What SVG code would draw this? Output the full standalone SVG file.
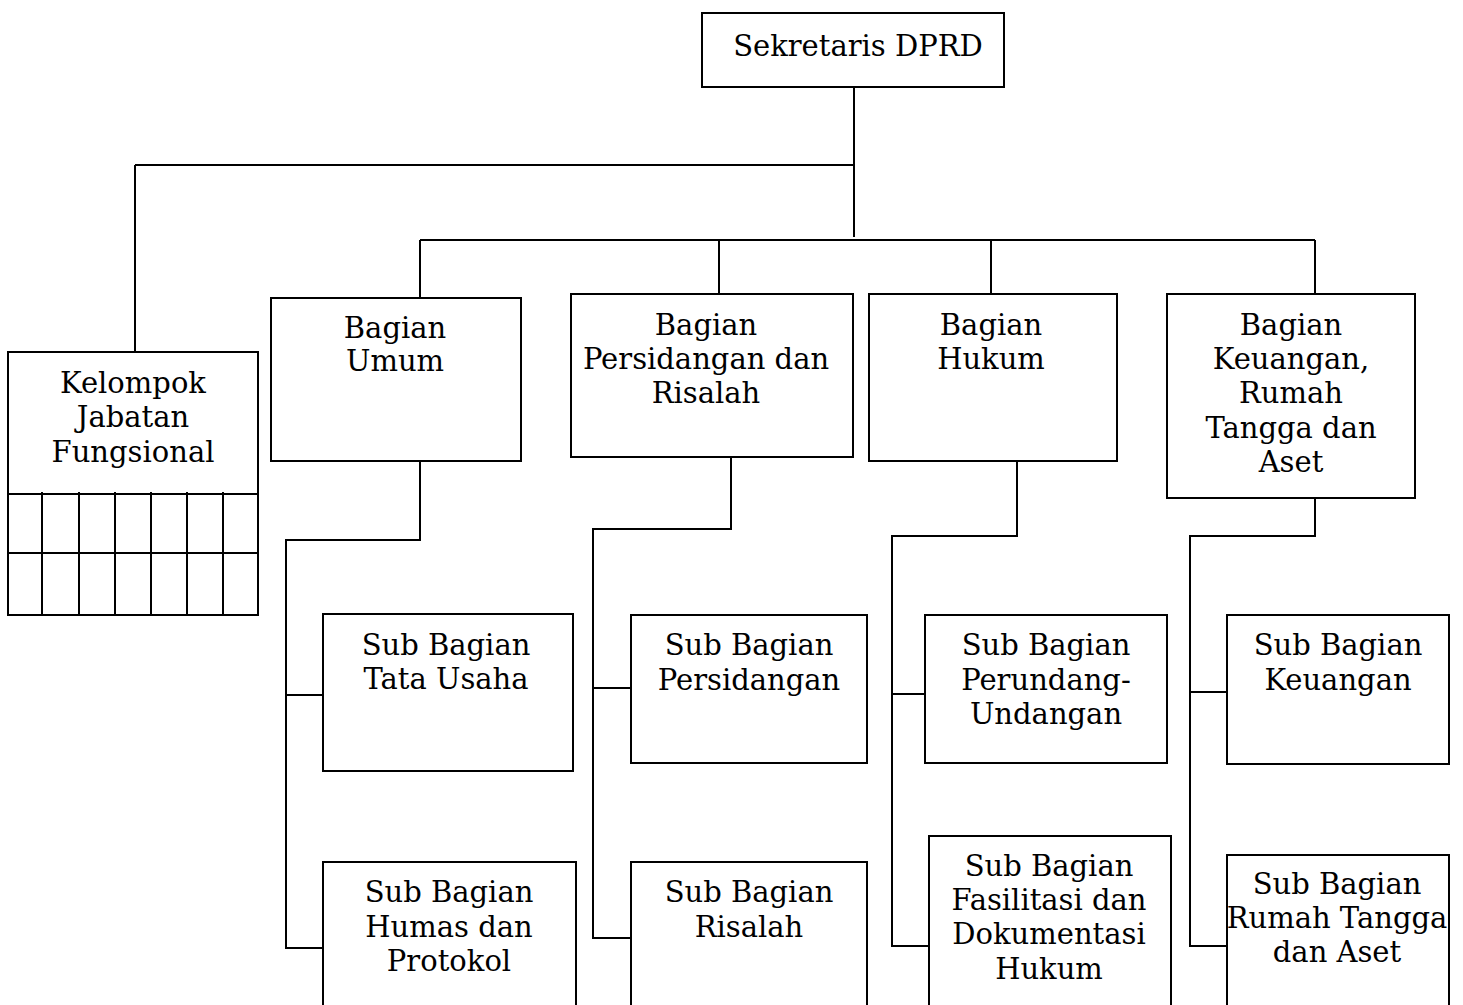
<svg xmlns="http://www.w3.org/2000/svg" width="1463" height="1005" viewBox="0 0 1463 1005">
<style>
.box{fill:#fff;stroke:#000;stroke-width:2}
.ln{fill:none;stroke:#000;stroke-width:2}
text{font-family:"DejaVu Serif","Liberation Serif",serif;font-size:29px;fill:#000;text-anchor:middle}
</style>
<rect width="1463" height="1005" fill="#fff"/>
<g id="connectors" class="ln">
<path d="M854 87V237M135 165H854M135 165V352M420 240H1315M420 240V298M719 240V294M991 240V294M1315 240V294"/>
<path d="M420 461V540H286V948H323M286 695H323"/>
<path d="M731 457V529H593V938H631M593 688H631"/>
<path d="M1017 461V536H892V946H929M892 694H932"/>
<path d="M1315 498V536H1190V946H1227M1190 692H1227"/>
</g>
<g id="sekretaris"><rect class="box" x="702" y="13" width="302" height="74"/><text x="858" y="56">Sekretaris DPRD</text></g>
<g id="kelompok"><rect class="box" x="8" y="352" width="250" height="263"/>
<path class="ln" d="M8 494H258M8 553H258M42 492V615M79 492V615M115 492V615M151 492V615M187 492V615M223 492V615"/>
<text x="133" y="393">Kelompok</text><text x="133" y="427">Jabatan</text><text x="133" y="462">Fungsional</text></g>
<g id="bagian-umum"><rect class="box" x="271" y="298" width="250" height="163"/><text x="395" y="338">Bagian</text><text x="395" y="371">Umum</text></g>
<g id="bagian-persidangan"><rect class="box" x="571" y="294" width="282" height="163"/><text x="706" y="335">Bagian</text><text x="706" y="369">Persidangan dan</text><text x="706" y="403">Risalah</text></g>
<g id="bagian-hukum"><rect class="box" x="869" y="294" width="248" height="167"/><text x="991" y="335">Bagian</text><text x="991" y="369">Hukum</text></g>
<g id="bagian-keuangan"><rect class="box" x="1167" y="294" width="248" height="204"/><text x="1291" y="335">Bagian</text><text x="1291" y="369">Keuangan,</text><text x="1291" y="403">Rumah</text><text x="1291" y="438">Tangga dan</text><text x="1291" y="472">Aset</text></g>
<g id="sub-tata-usaha"><rect class="box" x="323" y="614" width="250" height="157"/><text x="446" y="655">Sub Bagian</text><text x="446" y="689">Tata Usaha</text></g>
<g id="sub-humas"><rect class="box" x="323" y="862" width="253" height="160"/><text x="449" y="902">Sub Bagian</text><text x="449" y="937">Humas dan</text><text x="449" y="971">Protokol</text></g>
<g id="sub-persidangan"><rect class="box" x="631" y="615" width="236" height="148"/><text x="749" y="655">Sub Bagian</text><text x="749" y="690">Persidangan</text></g>
<g id="sub-risalah"><rect class="box" x="631" y="862" width="236" height="160"/><text x="749" y="902">Sub Bagian</text><text x="749" y="937">Risalah</text></g>
<g id="sub-perundang"><rect class="box" x="925" y="615" width="242" height="148"/><text x="1046" y="655">Sub Bagian</text><text x="1046" y="690">Perundang-</text><text x="1046" y="724">Undangan</text></g>
<g id="sub-fasilitasi"><rect class="box" x="929" y="836" width="242" height="186"/><text x="1049" y="876">Sub Bagian</text><text x="1049" y="910">Fasilitasi dan</text><text x="1049" y="944">Dokumentasi</text><text x="1049" y="979">Hukum</text></g>
<g id="sub-keuangan"><rect class="box" x="1227" y="615" width="222" height="149"/><text x="1338" y="655">Sub Bagian</text><text x="1338" y="690">Keuangan</text></g>
<g id="sub-rumah-tangga"><rect class="box" x="1227" y="855" width="222" height="167"/><text x="1337" y="894">Sub Bagian</text><text x="1337" y="928">Rumah Tangga</text><text x="1337" y="962">dan Aset</text></g>
</svg>
